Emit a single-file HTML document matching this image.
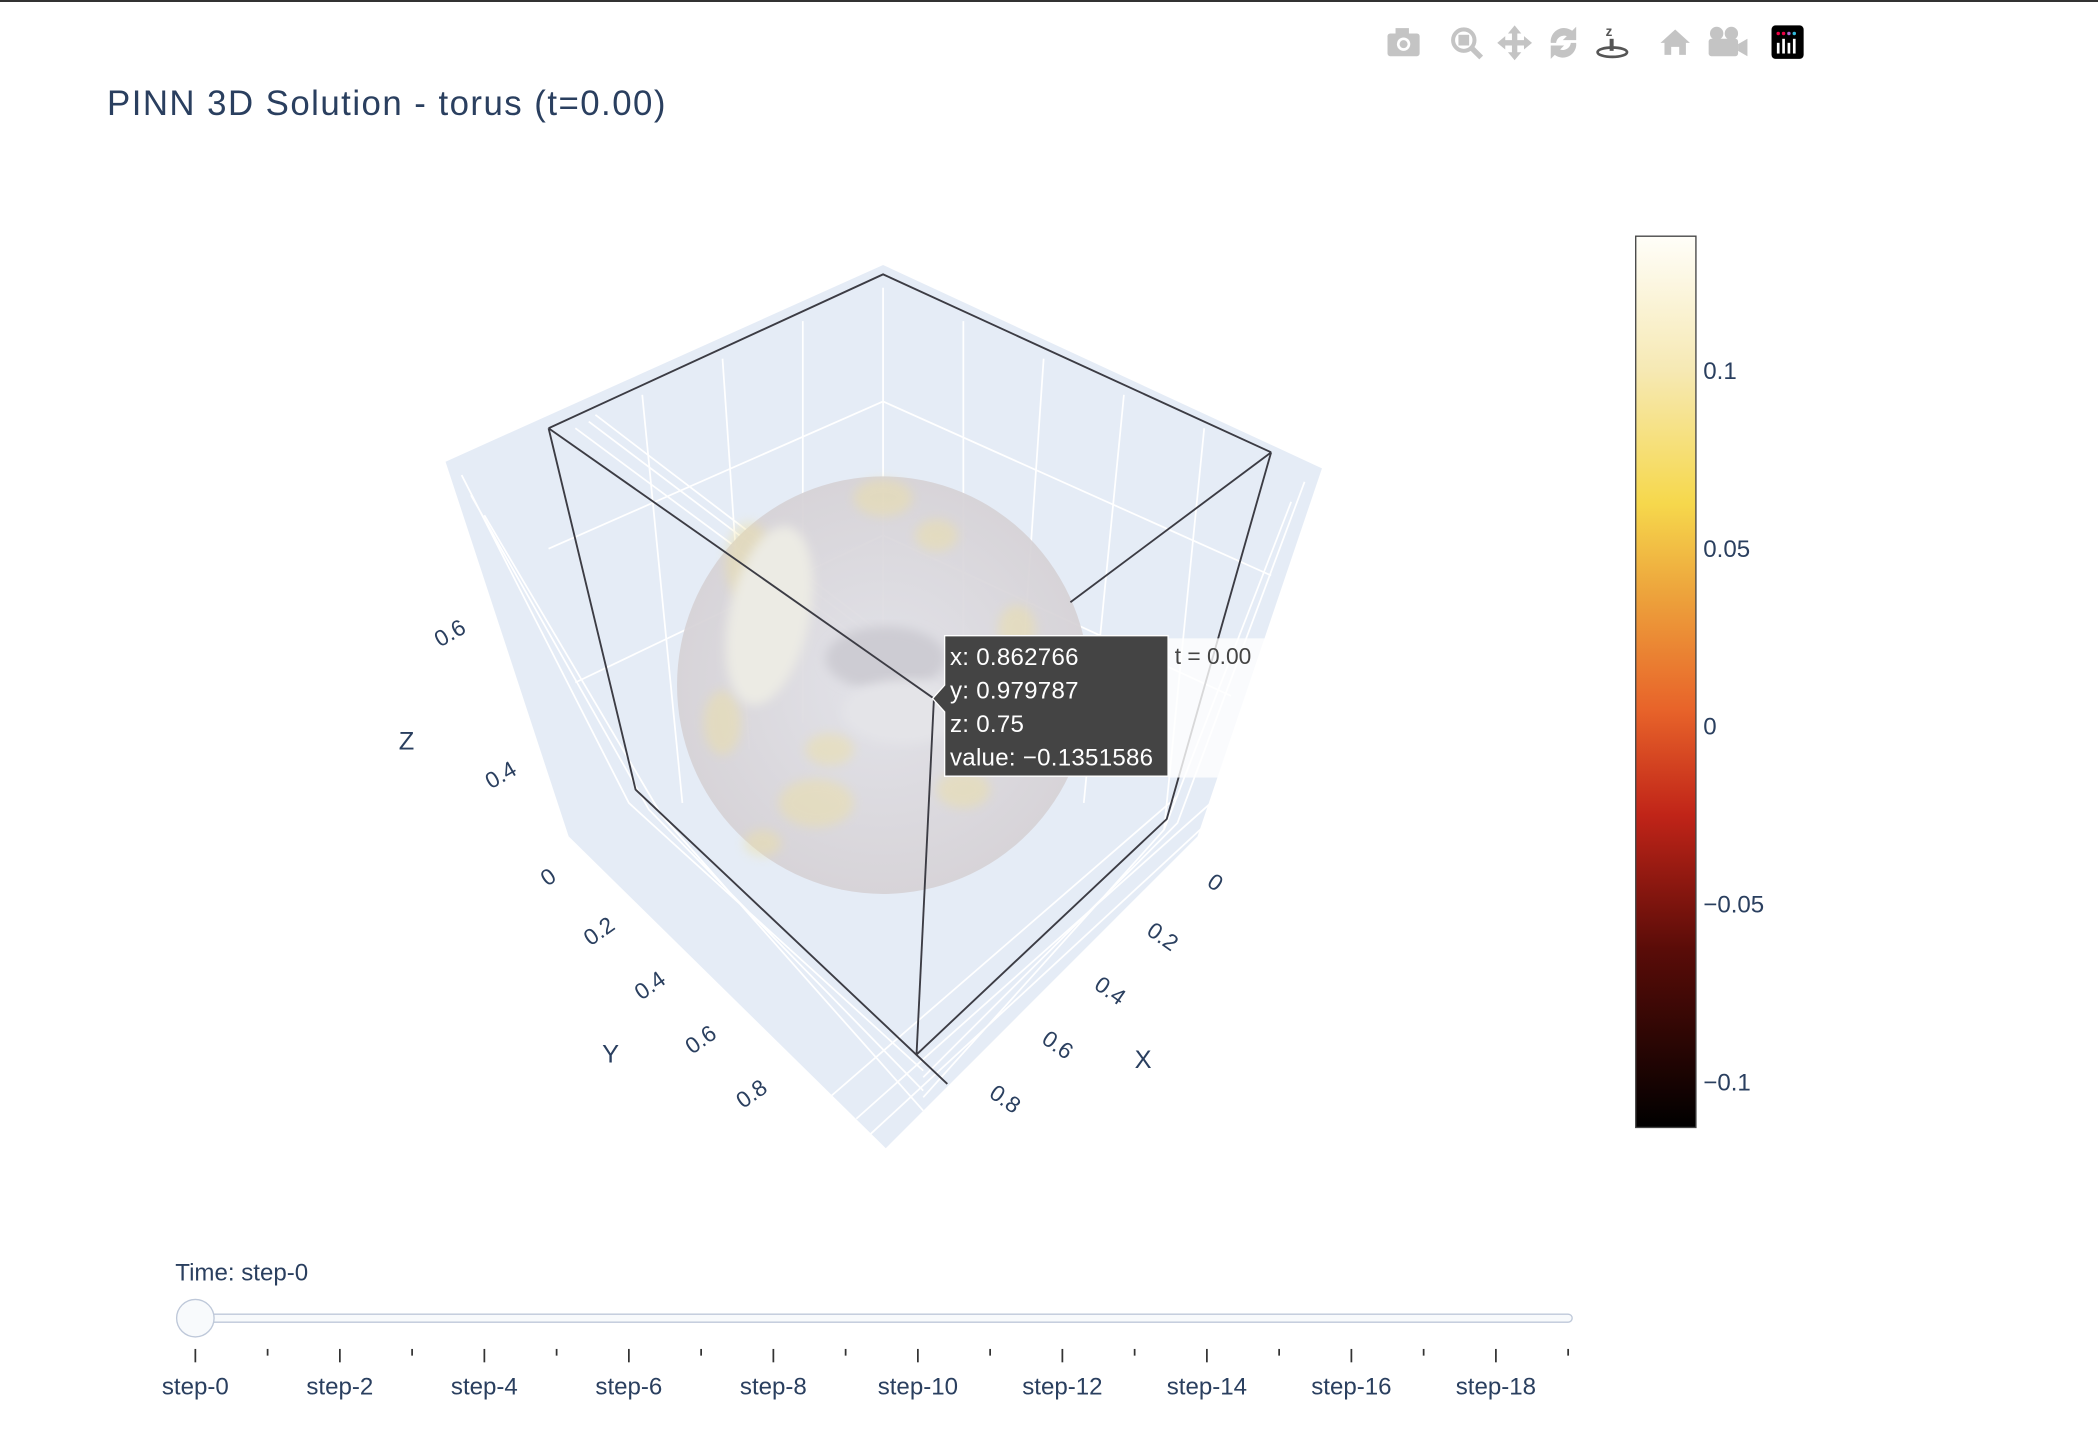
<!DOCTYPE html>
<html><head><meta charset="utf-8"><style>
html,body{margin:0;padding:0;background:#fff;overflow:hidden}
svg{display:block;font-family:"Liberation Sans",Arial,sans-serif}
</style></head><body>
<svg id="chart" width="2098" height="1456" viewBox="0 0 1568 1088" preserveAspectRatio="none" xmlns="http://www.w3.org/2000/svg">
<defs>
<linearGradient id="cbgrad" x1="0" y1="1" x2="0" y2="0">
<stop offset="0" stop-color="#000000"/>
<stop offset="0.2" stop-color="#5a0c08"/>
<stop offset="0.35" stop-color="#c02418"/>
<stop offset="0.47" stop-color="#e8642a"/>
<stop offset="0.6" stop-color="#eda43c"/>
<stop offset="0.7" stop-color="#f6d84c"/>
<stop offset="0.85" stop-color="#f6e9b4"/>
<stop offset="1" stop-color="#fffef9"/>
</linearGradient>
<radialGradient id="torusg" cx="0.5" cy="0.5" r="0.5">
<stop offset="0" stop-color="#e2e2e8"/>
<stop offset="1" stop-color="#d6d2d6"/>
</radialGradient>
<filter id="blur"><feGaussianBlur stdDeviation="4"/></filter>
</defs>
<rect width="1568" height="1088" fill="#fff"/>
<line x1="0" y1="0.7" x2="1568" y2="0.7" stroke="#333" stroke-width="1.5"/>
<text x="80" y="86" font-size="26" letter-spacing="1.1" fill="#2a3f5f">PINN 3D Solution - torus (t=0.00)</text>

<g fill="#c4c4c4">
<g><rect x="1037" y="25" width="24" height="17" rx="2"/><rect x="1043" y="21" width="10" height="6"/><circle cx="1049" cy="33" r="5" fill="#fff"/><circle cx="1049" cy="33" r="3"/></g>
<g><circle cx="1094" cy="30" r="8" fill="none" stroke="#c4c4c4" stroke-width="3"/><rect x="1090" y="26" width="8" height="8"/><line x1="1100" y1="36" x2="1107" y2="43" stroke="#c4c4c4" stroke-width="4"/></g>
<g><path d="M1132 19 l5 6 h-3 v5 h5 v-3 l6 5 -6 5 v-3 h-5 v5 h3 l-5 6 -5 -6 h3 v-5 h-5 v3 l-6 -5 6 -5 v3 h5 v-5 h-3z"/></g>
<g><path d="M1159 32 a10 10 0 0 1 16 -9 l3 -3 v10 h-10 l3 -3 a6 6 0 0 0 -8 5z M1178 32 a10 10 0 0 1 -16 9 l-3 3 v-10 h10 l-3 3 a6 6 0 0 0 8 -5z"/></g>
<g fill="#555"><text x="1200" y="27" font-size="10" font-weight="bold">z</text><rect x="1203" y="29" width="3" height="9"/><ellipse cx="1205" cy="39" rx="11" ry="3.5" fill="none" stroke="#555" stroke-width="2"/></g>
<g><path d="M1241 32 l11 -10 11 10 h-3 v9 h-5 v-6 h-6 v6 h-5 v-9z"/></g>
<g><circle cx="1283" cy="25" r="5"/><circle cx="1294" cy="25" r="5"/><rect x="1277" y="29" width="22" height="13" rx="2"/><path d="M1299 33 l7 -4 v13 l-7 -4z"/></g>
<g><rect x="1324" y="19" width="24" height="25" rx="3" fill="#000"/><g fill="#fff"><rect x="1328" y="32" width="2" height="8"/><rect x="1332" y="29" width="2" height="11"/><rect x="1336" y="32" width="2" height="8"/><rect x="1340" y="29" width="2" height="11"/></g><circle cx="1329" cy="25" r="1.3" fill="#e04"/><circle cx="1333" cy="25" r="1.3" fill="#e04"/><circle cx="1337" cy="25" r="1.3" fill="#a6c"/><circle cx="1341" cy="25" r="1.3" fill="#3bd"/></g>
</g>

<g id="scene">
<polygon points="333,345 660,198 988,350 895,625 662,858 425,625" fill="#e5ecf6"/>
<g stroke="#fff" stroke-width="1.3" fill="none">
<path d="M660,215 L660,510 M600,240 L600,540 M540,268 L560,560 M480,295 L510,600 M720,240 L720,540 M780,268 L760,560 M840,295 L810,600 M900,320 L870,620"/>
<path d="M660,300 L410,410 M660,300 L950,430 M660,400 L430,510 M660,400 L920,520"/>
<path d="M345,355 L470,600 L690,800 M352,370 L485,605 L690,815 M362,385 L495,610 L690,830 M975,360 L880,615 L690,805 M965,375 L870,620 L690,820"/>
<path d="M430,320 L700,520 M440,315 L705,515 M445,310 L710,512"/>
<path d="M640,836 L905,600 M650,848 L910,608 M620,820 L880,595"/>
</g>
<g>
<ellipse cx="660" cy="512" rx="154" ry="156" fill="url(#torusg)" opacity="0.93"/>
<g fill="#eee0a0" opacity="0.45" filter="url(#blur)">
<ellipse cx="660" cy="372" rx="22" ry="14"/><ellipse cx="560" cy="420" rx="18" ry="30"/><ellipse cx="610" cy="600" rx="28" ry="18"/>
<ellipse cx="720" cy="590" rx="20" ry="14"/><ellipse cx="540" cy="540" rx="14" ry="24"/><ellipse cx="760" cy="470" rx="14" ry="18"/>
<ellipse cx="700" cy="400" rx="16" ry="12"/><ellipse cx="570" cy="630" rx="14" ry="10"/><ellipse cx="620" cy="560" rx="18" ry="12"/>
</g>
<ellipse cx="575" cy="460" rx="30" ry="68" fill="#ecebe4" transform="rotate(12 575 460)" filter="url(#blur)"/>
<ellipse cx="662" cy="492" rx="45" ry="24" fill="#cdccd3" filter="url(#blur)"/>
<ellipse cx="675" cy="532" rx="45" ry="24" fill="#e4e4e8" filter="url(#blur)"/>
</g>
<g stroke="#3c3c44" stroke-width="1.4" fill="none">
<polyline points="410,320 660,205 950,338"/>
<polyline points="410,320 475,590 708,810"/>
<polyline points="950,338 872,612 685,788"/>
<line x1="410" y1="320" x2="698" y2="522"/>
<line x1="950" y1="338" x2="800" y2="450"/>
<line x1="698" y1="522" x2="685" y2="788"/>
</g>
<g font-size="17" fill="#2a3f5f">
<text x="298" y="560" font-size="19">Z</text>
<text x="323" y="478" transform="rotate(-30 337 470)">0.6</text>
<text x="361" y="584" transform="rotate(-30 375 576)">0.4</text>
<text x="450" y="794" font-size="19">Y</text>
<text x="848" y="798" font-size="19">X</text>
</g>
<g id="yticks" font-size="17" fill="#2a3f5f"></g>
<g id="xticks" font-size="17" fill="#2a3f5f"></g>
</g>

<g>
<rect x="873" y="477" width="72" height="104" fill="#fff" opacity="0.8"/>
<text x="878" y="496" font-size="17" fill="#444">t = 0.00</text>
<path d="M706,475 H873 V580 H706 V532 L697,522 L706,512 Z" fill="#444" stroke="#fff" stroke-width="1"/>
<g font-size="18" fill="#fff" letter-spacing="0.2">
<text x="710" y="497">x: 0.862766</text>
<text x="710" y="522">y: 0.979787</text>
<text x="710" y="547">z: 0.75</text>
<text x="710" y="572">value: −0.1351586</text>
</g>
</g>

<g>
<rect x="1222.5" y="176.5" width="45" height="666" fill="url(#cbgrad)" stroke="#444" stroke-width="1"/>
<g id="cbticks" font-size="18" fill="#2a3f5f"></g>
</g>

<g>
<text x="131" y="957" font-size="18" fill="#2a3f5f">Time: step-0</text>
<rect x="142" y="982" width="1033" height="6" rx="3" fill="#f8fafc" stroke="#bec8d9" stroke-width="1"/>
<g id="sticks"></g>
<circle cx="146" cy="985" r="14" fill="#f8fafc" stroke="#bec8d9" stroke-width="1"/>
</g>
</svg>
<script>
const cbTickVals = [0.1, 0.05, 0, -0.05, -0.1];
const cbTickLabels = ["0.1", "0.05", "0", "\u22120.05", "\u22120.1"];
const cbRange = [-0.1124, 0.138];
const steps = ["step-0","step-1","step-2","step-3","step-4","step-5","step-6","step-7","step-8","step-9","step-10","step-11","step-12","step-13","step-14","step-15","step-16","step-17","step-18","step-19"];
const yTickLabels = ["0","0.2","0.4","0.6","0.8"];
const xTickLabels = ["0","0.2","0.4","0.6","0.8"];
const tickVals = [0,0.2,0.4,0.6,0.8];

const NS = "http://www.w3.org/2000/svg";
function cbY(v){ return 842 - (v - cbRange[0]) / (cbRange[1] - cbRange[0]) * 666; }
const cbG = document.getElementById('cbticks');
cbTickVals.forEach((v,i)=>{
  const t = document.createElementNS(NS,'text');
  t.setAttribute('x', 1273);
  t.setAttribute('y', cbY(v) + 6);
  t.textContent = cbTickLabels[i];
  
  
  cbG.appendChild(t);
});

function sX(i){ return 146 + i * (1172 - 146) / (steps.length - 1); }
const sG = document.getElementById('sticks');
steps.forEach((s,i)=>{
  const x = sX(i);
  const l = document.createElementNS(NS,'line');
  l.setAttribute('x1', x); l.setAttribute('x2', x);
  l.setAttribute('y1', 1008); l.setAttribute('y2', i % 2 === 0 ? 1018 : 1013);
  l.setAttribute('stroke', '#333'); l.setAttribute('stroke-width', '1.3');
  
  
  sG.appendChild(l);
  if (i % 2 === 0) {
    const t = document.createElementNS(NS,'text');
    t.setAttribute('x', x); t.setAttribute('y', 1042);
    t.setAttribute('text-anchor', 'middle');
    t.setAttribute('font-size', '18'); t.setAttribute('fill', '#2a3f5f');
    t.textContent = s;
    
    
    sG.appendChild(t);
  }
});

function yAxisPos(v){ return [413 + v/0.8*(565-413), 660 + v/0.8*(822-660)]; }
function xAxisPos(v){ return [905 - v/0.8*(905-748), 664 + v/0.8*(826-664)]; }
const yG = document.getElementById('yticks');
tickVals.forEach((v,i)=>{
  const [x,y] = yAxisPos(v);
  const t = document.createElementNS(NS,'text');
  t.setAttribute('x', x); t.setAttribute('y', y);
  t.setAttribute('text-anchor', 'middle');
  t.setAttribute('transform', `rotate(-35 ${x} ${y})`);
  t.textContent = yTickLabels[i];
  
  
  yG.appendChild(t);
});
const xG = document.getElementById('xticks');
tickVals.forEach((v,i)=>{
  const [x,y] = xAxisPos(v);
  const t = document.createElementNS(NS,'text');
  t.setAttribute('x', x); t.setAttribute('y', y);
  t.setAttribute('text-anchor', 'middle');
  t.setAttribute('transform', `rotate(35 ${x} ${y})`);
  t.textContent = xTickLabels[i];
  
  
  xG.appendChild(t);
});
</script>
</body></html>
